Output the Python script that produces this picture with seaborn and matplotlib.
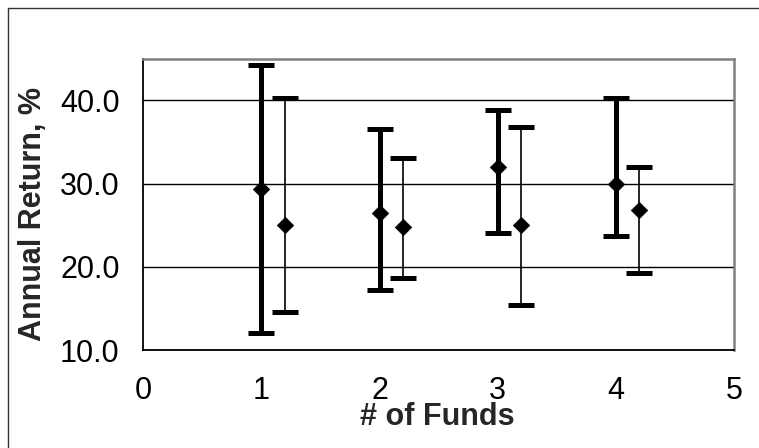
import numpy as np
import pandas as pd
import matplotlib
matplotlib.use("Agg")
import matplotlib.pyplot as plt
import seaborn as sns
from matplotlib.lines import Line2D

# bold series, at each whole fund count
x_a = [1, 2, 3, 4]
mean_a = [29.3, 26.5, 32.0, 30.0]
low_a = [12.0, 17.2, 24.0, 23.7]
high_a = [44.3, 36.5, 38.8, 40.3]

# thin series, shifted right by 0.2
x_b = [1.2, 2.2, 3.2, 4.2]
mean_b = [25.0, 24.8, 25.0, 26.8]
low_b = [14.6, 18.6, 15.4, 19.2]
high_b = [40.3, 33.1, 36.8, 32.0]

x_ticks = [0, 1, 2, 3, 4, 5]
y_ticks = [10, 20, 30, 40]

sns.set_style("white")
plt.rcParams['font.family'] = ['Liberation Sans', 'DejaVu Sans']

df = pd.DataFrame({
    "x": x_a + x_b,
    "mean": mean_a + mean_b,
})

fig = plt.figure(figsize=(7.59, 4.48), dpi=100)
ax = fig.add_axes([143.3 / 759, 98 / 448, 590.7 / 759, 291.3 / 448])

# error bars: thick for first series, thin stems for second
ya = np.array(mean_a)
ax.errorbar(x_a, ya, yerr=[ya - np.array(low_a), np.array(high_a) - ya],
            fmt='none', ecolor='black', elinewidth=3.6, capsize=9.7,
            capthick=3.6, zorder=3)
yb = np.array(mean_b)
ax.errorbar(x_b, yb, yerr=[yb - np.array(low_b), np.array(high_b) - yb],
            fmt='none', ecolor='black', elinewidth=1.2, capsize=9.7,
            capthick=3.6, zorder=3)

sns.scatterplot(data=df, x="x", y="mean", marker='D', s=70, color='black',
                edgecolor='black', linewidth=0.5, zorder=4, ax=ax, legend=False)

ax.set_xlim(0, 5)
ax.set_ylim(10, 45)
ax.set_xticks(x_ticks)
ax.set_yticks(y_ticks)
ax.set_yticklabels([f"{v:.1f}" for v in y_ticks])
ax.yaxis.grid(True, color='black', linewidth=1.0)
ax.set_axisbelow(True)

for side in ['top', 'right']:
    ax.spines[side].set_color('#808080')
    ax.spines[side].set_linewidth(1.8)
for side in ['bottom', 'left']:
    ax.spines[side].set_color('black')
    ax.spines[side].set_linewidth(1.3)

ax.tick_params(axis='both', direction='out', length=6, width=1,
               colors='black', labelsize=22)
ax.tick_params(axis='x', pad=13)
ax.tick_params(axis='y', pad=11)

ax.set_xlabel('# of Funds', fontsize=22, fontweight='bold')
ax.xaxis.label.set_va('baseline')
ax.xaxis.set_label_coords(0.497, -0.258)
ax.set_ylabel('Annual Return, %', fontsize=22, fontweight='bold')
ax.yaxis.set_label_coords(-0.187, 0.467)
ax.yaxis.label.set_va('center')

# outer chart frame (only top and left edges show)
fig.add_artist(Line2D([8 / 759, 8 / 759], [0, 1 - 8 / 448],
                      transform=fig.transFigure, color='#333333', lw=1))
fig.add_artist(Line2D([8 / 759, 1], [1 - 8 / 448, 1 - 8 / 448],
                      transform=fig.transFigure, color='#333333', lw=1))

fig.savefig("out.png", dpi=100)
